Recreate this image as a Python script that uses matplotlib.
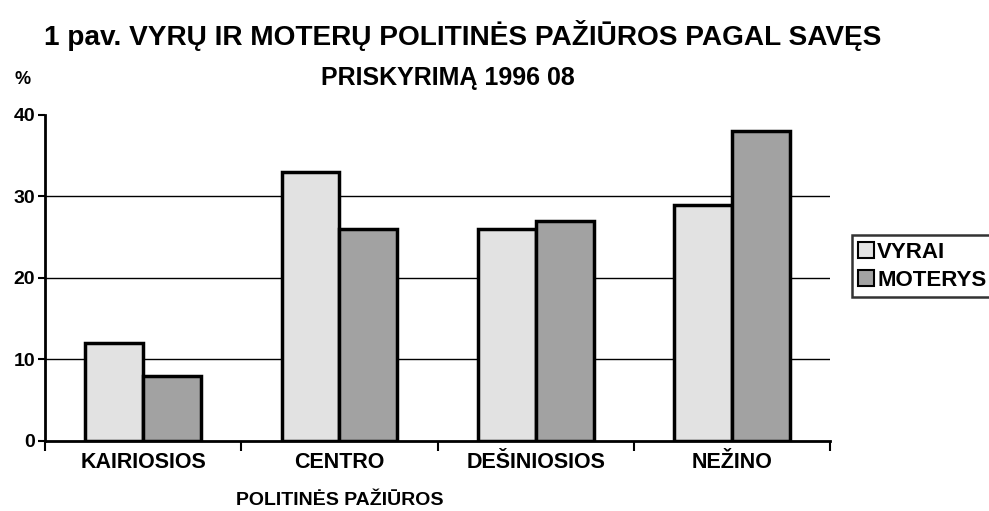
import numpy as np
import matplotlib
matplotlib.use("Agg")
import matplotlib.pyplot as plt
from matplotlib.patches import Patch

plt.rcParams["font.family"] = ["Liberation Sans", "DejaVu Sans"]
plt.rcParams["font.weight"] = "bold"

categories = ["KAIRIOSIOS", "CENTRO", "DEŠINIOSIOS", "NEŽINO"]
vyrai = [12, 33, 26, 29]
moterys = [8, 26, 27, 38]
series_names = ["VYRAI", "MOTERYS"]

fig = plt.figure(figsize=(9.89, 5.11), dpi=100)
ax = fig.add_axes([0.0455, 0.137, 0.794, 0.638])

x = np.arange(len(categories))
w = 0.295
ax.bar(x - w / 2, vyrai, w, color="#e2e2e2", edgecolor="black", linewidth=2.5, zorder=3)
ax.bar(x + w / 2, moterys, w, color="#a2a2a2", edgecolor="black", linewidth=2.5, zorder=3)

ax.set_xlim(-0.5, len(categories) - 0.5)
ax.set_ylim(0, 40)
ax.set_yticks([0, 10, 20, 30, 40])
ax.set_yticklabels(["0", "10", "20", "30", "40"], fontsize=14, fontweight="bold")
for yv in [10, 20, 30]:
    ax.axhline(yv, color="black", linewidth=1, zorder=1)

ax.set_xticks(np.arange(-0.5, len(categories)))
ax.set_xticklabels([])
ax.tick_params(axis="x", direction="out", length=7, width=1.5)
ax.tick_params(axis="y", direction="out", length=5, width=1.5, pad=2)
for xi, lab in zip(x, categories):
    ax.text(xi, -2.6, lab, ha="center", va="center", fontsize=15.5, fontweight="bold")
ax.text(1.0, -7.3, "POLITINĖS PAŽIŪROS", ha="center", va="center", fontsize=14, fontweight="bold")

for s in ["top", "right"]:
    ax.spines[s].set_visible(False)
ax.spines["left"].set_linewidth(2)
ax.spines["bottom"].set_linewidth(2)

fig.text(0.468, 0.931, "1 pav. VYRŲ IR MOTERŲ POLITINĖS PAŽIŪROS PAGAL SAVĘS",
         ha="center", va="center", fontsize=20.2, fontweight="bold")
fig.text(0.453, 0.848, "PRISKYRIMĄ 1996 08", ha="center", va="center", fontsize=18, fontweight="bold")
fig.text(0.015, 0.845, "%", ha="left", va="center", fontsize=13, fontweight="bold")

handles = [Patch(facecolor="#e2e2e2", edgecolor="black", linewidth=1.5),
           Patch(facecolor="#a2a2a2", edgecolor="black", linewidth=1.5)]
leg = fig.legend(handles, series_names, loc="center left", bbox_to_anchor=(0.861, 0.479),
                 frameon=True, fancybox=False, edgecolor="black", fontsize=16,
                 handlelength=0.7, handleheight=0.7, handletextpad=0.15,
                 borderpad=0.3, labelspacing=0.3, borderaxespad=0)
leg.get_frame().set_linewidth(1.8)
for t in leg.get_texts():
    t.set_fontweight("bold")

fig.savefig("out.png", dpi=100)
